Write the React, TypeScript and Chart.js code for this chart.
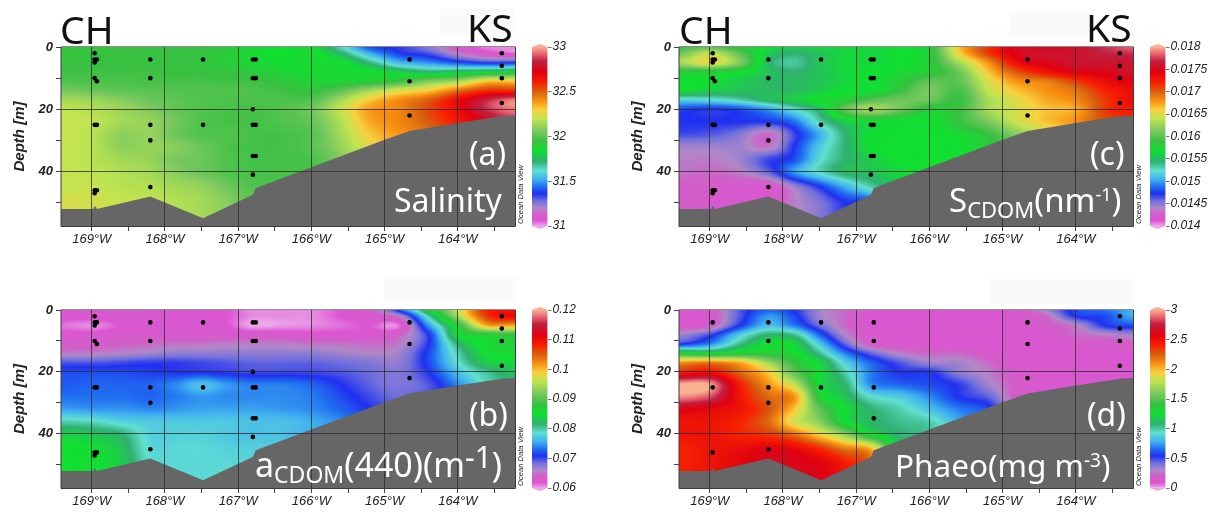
import React, { useEffect, useRef } from "react";
import { Chart, registerables } from "chart.js";

Chart.register(...registerables);

const longitudes = [-169.42, -169, -168.6, -168.2, -167.85, -167.5, -167.15, -166.8, -166.4, -166, -165.6, -165.2, -164.8, -164.4, -164, -163.6, -163.22];
const depths = [0, 2, 5, 8, 11, 14, 17, 20, 24, 28, 32, 36, 40, 45, 50, 57];

const salinity = [
  [32.03,32.03,32.04,32.04,32.04,32.03,32.0,31.96,31.94,31.95,31.75,31.45,31.38,31.27,31.1,31.03,31.02],
  [32.03,32.03,32.04,32.04,32.04,32.03,32.0,31.96,31.94,31.96,31.85,31.6,31.42,31.35,31.2,31.1,31.05],
  [32.04,32.04,32.04,32.04,32.04,32.03,32.0,31.97,31.95,31.96,31.95,31.82,31.62,31.55,31.45,31.38,31.4],
  [32.05,32.05,32.05,32.05,32.04,32.04,32.03,32.01,31.98,31.96,31.96,31.95,31.9,31.85,31.88,31.92,31.95],
  [32.08,32.07,32.07,32.06,32.06,32.06,32.05,32.05,32.02,31.98,31.98,32.0,32.05,32.15,32.2,32.35,32.35],
  [32.14,32.12,32.1,32.09,32.08,32.08,32.08,32.07,32.05,32.03,32.1,32.2,32.28,32.35,32.5,32.62,32.62],
  [32.2,32.19,32.16,32.12,32.1,32.08,32.07,32.07,32.07,32.08,32.2,32.35,32.45,32.54,32.7,32.84,32.95],
  [32.24,32.22,32.19,32.15,32.11,32.08,32.07,32.06,32.08,32.13,32.25,32.42,32.46,32.58,32.7,32.86,32.95],
  [32.25,32.24,32.2,32.18,32.13,32.08,32.06,32.06,32.08,32.11,32.22,32.4,32.46,32.55,32.66,32.75,32.85],
  [32.25,32.23,32.17,32.18,32.12,32.08,32.08,32.06,32.06,32.09,32.2,32.35,32.43,32.5,32.6,32.7,32.8],
  [32.25,32.23,32.17,32.18,32.16,32.12,32.07,32.06,32.06,32.09,32.18,32.3,32.4,32.5,32.6,32.7,32.8],
  [32.25,32.23,32.2,32.18,32.14,32.12,32.08,32.06,32.06,32.07,32.15,32.25,32.35,32.4,32.5,32.6,32.7],
  [32.25,32.24,32.22,32.2,32.16,32.12,32.08,32.06,32.06,32.07,32.12,32.2,32.3,32.4,32.5,32.6,32.7],
  [32.25,32.25,32.23,32.22,32.2,32.18,32.13,32.08,32.07,32.08,32.12,32.2,32.3,32.4,32.5,32.6,32.7],
  [32.28,32.27,32.25,32.24,32.22,32.2,32.16,32.1,32.08,32.08,32.12,32.2,32.3,32.4,32.5,32.6,32.7],
  [32.28,32.27,32.25,32.24,32.22,32.2,32.16,32.1,32.08,32.08,32.12,32.2,32.3,32.4,32.5,32.6,32.7],
];

// in units of 0.001 nm-1
const scdomMilli = [
  [16.08,16.2,16,15.88,15.8,15.84,15.84,15.84,15.88,16,16.72,17.2,17.52,17.52,17.6,17.72,17.84],
  [16.24,16.48,16.2,15.8,15.68,15.76,15.84,15.84,15.88,16,16.64,17.2,17.52,17.6,17.6,17.68,17.72],
  [16.4,16.6,16.32,15.72,15.56,15.76,15.84,15.84,15.88,16,16.4,16.88,17.4,17.52,17.6,17.6,17.6],
  [16,16,15.92,15.76,15.68,15.76,15.84,15.88,15.92,16,16.24,16.72,17.12,17.36,17.48,17.52,17.6],
  [15.88,15.88,15.8,15.72,15.72,15.76,15.84,15.88,16,16.2,16.2,16.56,16.88,16.96,17.2,17.4,17.48],
  [15.88,15.8,15.76,15.72,15.72,15.8,15.88,15.88,16.08,16.28,16.12,16.48,16.72,16.88,17,17.28,17.4],
  [15.36,15.4,15.52,15.72,15.8,15.92,16,16.16,16.24,16.24,16.08,16.4,16.6,16.8,16.92,17.2,17.4],
  [14.88,14.8,14.88,15.12,15.44,15.72,16.2,16.4,16.24,16,16.08,16.4,16.56,16.72,16.8,17.2,17.32],
  [14.8,14.8,14.8,14.8,15,15.52,15.8,15.88,15.88,15.88,16.08,16.28,16.52,16.72,16.88,17.12,17.2],
  [14.72,14.68,14.56,14.32,14.72,15.2,15.68,15.88,15.88,15.88,15.92,16.08,16.32,16.48,16.64,16.8,16.96],
  [14.48,14.48,14.48,14.36,14.8,15.32,15.68,15.88,15.88,15.88,15.88,16,16.16,16.32,16.4,16.48,16.56],
  [14.4,14.4,14.48,14.72,14.88,15.4,15.68,15.8,15.88,15.88,15.88,15.92,16,16,16,16,16],
  [14.36,14.32,14.4,14.64,15.12,15.48,15.72,15.76,15.84,15.88,15.88,15.88,15.88,16,16,16,16],
  [14.24,14.24,14.2,14.16,14.48,14.8,15.2,15.52,15.8,15.88,15.88,15.88,15.88,16,16,16,16],
  [14.24,14.2,14.2,14.2,14.4,14.56,14.8,14.88,15.8,15.88,15.88,15.88,15.88,16,16,16,16],
  [14.24,14.2,14.2,14.2,14.4,14.56,14.8,14.88,15.8,15.88,15.88,15.88,15.88,16,16,16,16],
];

// in units of 0.001 m-1
const acdomMilli = [
  [62.4,63,63,63,62.4,62.4,61.8,60.6,60.6,60.6,61.8,63.6,73.2,87.6,97.2,109.2,110.4],
  [62.4,62.4,63,63,62.4,62.4,61.8,60.6,60.6,60.6,61.8,63,66,82.8,96,108,111],
  [61.2,60.6,61.8,62.4,62.4,62.4,61.8,60,60.3,60.6,61.2,61.8,61.2,76.8,90,102,102],
  [62.4,62.4,63,63,63,63,63,63,63,62.4,62.4,62.4,64.2,72,88.2,90,91.2],
  [63.6,63.6,64.2,64.8,65.4,65.4,66,66,66,65.4,65.4,64.8,66,72,85.2,88.8,90],
  [66,66,66.6,67.2,67.8,67.8,67.8,67.8,67.8,67.8,67.2,66.6,67.2,73.2,82.8,88.2,88.8],
  [70.2,70.2,70.8,71.4,71.4,70.8,70.2,69.6,69.6,69.6,69,68.4,67.8,73.2,81.6,87,87.6],
  [73.2,73.2,73.2,72.6,72,72,71.4,70.8,70.8,70.8,70.2,69,68.4,72,79.2,84,86.4],
  [73.8,74.4,74.4,74.4,76.2,79.2,76.8,75.6,75.6,74.4,72,69.6,68.4,70.2,76.2,81.6,84],
  [75,75,75,74.4,75.6,76.8,76.2,76.2,76.2,75.6,73.2,70.8,69,70.2,72,74.4,76.8],
  [77.4,76.8,76.8,76.2,76.8,77.4,77.4,77.4,76.8,76.2,74.4,72,69.6,70.2,72,72,72],
  [82.8,82.2,80.4,79.8,79.8,79.8,79.8,79.2,79.2,78,76.2,73.2,70.8,70.8,72,72,72],
  [87,86.4,85.2,80.4,80.4,80.4,79.8,79.2,79.2,78,76.2,73.2,70.8,70.8,72,72,72],
  [88.2,88.2,86.4,81,81,81,80.4,80.4,79.8,78,76.2,73.2,70.8,70.8,72,72,72],
  [88.2,88.2,87,81.6,81,81,81,80.4,79.8,78,76.2,73.2,70.8,70.8,72,72,72],
  [88.2,88.2,87,81.6,81,81,81,80.4,79.8,78,76.2,73.2,70.8,70.8,72,72,72],
];

const phaeo = [
  [0.12,0.15,0.5,0.72,0.6,0.36,0.24,0.12,0.12,0.12,0.12,0.12,0.15,0.36,0.66,0.75,0.9],
  [0.12,0.15,0.5,0.84,0.66,0.36,0.24,0.12,0.12,0.12,0.12,0.12,0.15,0.24,0.6,0.66,0.9],
  [0.15,0.18,0.6,0.95,0.78,0.45,0.24,0.12,0.12,0.12,0.12,0.12,0.12,0.18,0.3,0.6,0.66],
  [0.36,0.54,0.99,1.26,1.2,0.72,0.33,0.15,0.12,0.12,0.12,0.12,0.12,0.15,0.24,0.3,0.36],
  [0.6,0.81,1.2,1.41,1.38,0.99,0.48,0.18,0.15,0.12,0.12,0.12,0.12,0.12,0.15,0.18,0.18],
  [1.5,1.41,1.5,1.5,1.44,1.2,0.78,0.48,0.3,0.24,0.24,0.15,0.12,0.12,0.12,0.12,0.12],
  [2.16,2.22,2.1,1.8,1.56,1.38,1.02,0.72,0.51,0.36,0.36,0.24,0.12,0.12,0.12,0.12,0.12],
  [2.46,2.52,2.28,2.01,1.65,1.41,1.14,0.78,0.6,0.6,0.39,0.3,0.15,0.12,0.12,0.12,0.12],
  [3,2.98,2.49,2.16,1.86,1.41,1.26,0.81,0.72,0.66,0.57,0.36,0.18,0.12,0.12,0.12,0.12],
  [2.95,2.85,2.52,2.28,2.16,1.5,1.32,1.08,0.99,0.81,0.6,0.48,0.18,0.12,0.12,0.12,0.12],
  [2.64,2.58,2.52,2.34,2.04,1.65,1.41,1.26,1.14,0.96,0.78,0.66,0.3,0.15,0.12,0.12,0.12],
  [2.52,2.52,2.46,2.28,1.92,1.74,1.41,1.29,1.2,1.14,0.9,0.72,0.3,0.15,0.12,0.12,0.12],
  [2.52,2.52,2.46,2.4,2.25,1.98,1.74,1.41,1.26,1.2,1.05,0.9,0.3,0.15,0.12,0.12,0.12],
  [2.46,2.52,2.55,2.61,2.58,2.46,2.25,2.1,1.3,1.2,1.05,0.9,0.3,0.15,0.12,0.12,0.12],
  [2.46,2.52,2.58,2.64,2.64,2.61,2.49,2.25,1.3,1.2,1.05,0.9,0.3,0.15,0.12,0.12,0.12],
  [2.46,2.52,2.58,2.64,2.64,2.61,2.49,2.25,1.3,1.2,1.05,0.9,0.3,0.15,0.12,0.12,0.12],
];

const seabedLon = [-169.42, -168.98, -168.96, -168.93, -168.2, -167.48, -166.8, -166.76, -166, -165, -164.66, -164, -163.4, -163.22];
const seabedDepth = [52, 52, 51, 52, 48, 55, 47.5, 45.3, 38.6, 29.8, 27, 24.4, 22.2, 22];

const stationsFull = [
  [-168.96,2],[-168.96,4],[-168.93,4],[-168.96,5],[-168.96,10],[-168.93,11],
  [-168.96,25],[-168.93,25],[-168.93,46],[-168.96,46],[-168.96,47],
  [-168.2,4],[-168.2,10],[-168.2,25],[-168.2,30],[-168.2,45],
  [-167.48,4],[-167.48,25],
  [-166.8,4],[-166.76,4],[-166.8,10],[-166.76,10],[-166.8,20],[-166.8,25],[-166.76,25],[-166.8,35],[-166.76,35],[-166.8,41],
  [-164.66,4],[-164.66,11],[-164.66,22],
  [-163.4,2],[-163.4,6],[-163.4,10],[-163.4,18],
];
const stationsPhaeo = [
  [-168.96,4],[-168.96,25],[-168.96,46],
  [-168.2,4],[-168.2,10],[-168.2,25],[-168.2,30],[-168.2,45],
  [-167.48,4],[-167.48,25],
  [-166.76,4],[-166.76,10],[-166.76,25],[-166.76,35],
  [-164.66,4],[-164.66,11],[-164.66,22],
  [-163.4,2],[-163.4,6],[-163.4,10],[-163.4,18],
];

// Position of each colour as read from the legend bars, and the position it had
// when the section values above were read off the picture.
const colorHex = ["#eba6e8","#dc55d2","#d060c8","#b088c8","#7070dc","#2030f0","#2070f0","#40b0f0","#60e0d0","#30b070","#10e030","#38c040","#78c860","#c0e450","#f8d040","#f89010","#d86010","#f82000","#e00010","#c02040","#e86070","#f8b090"];
const colorPos = [0,0.03,0.07,0.1,0.14,0.18,0.22,0.26,0.31,0.36,0.42,0.47,0.53,0.6,0.65,0.7,0.75,0.8,0.86,0.92,0.96,1];
const readingPos = [0,0.03,0.07,0.11,0.15,0.2,0.25,0.3,0.36,0.42,0.47,0.52,0.57,0.62,0.67,0.72,0.77,0.82,0.87,0.92,0.96,1];

const hexRgb = (h: string) => [1, 3, 5].map((i) => parseInt(h.slice(i, i + 2), 16));
const rgbStops = colorHex.map(hexRgb);

function fracIndex(list: number[], v: number) {
  if (v <= list[0]) return 0;
  for (let i = 1; i < list.length; i++) {
    if (v <= list[i]) return i - 1 + (v - list[i - 1]) / (list[i] - list[i - 1]);
  }
  return list.length - 1;
}

function colorAt(t: number) {
  const f = fracIndex(colorPos, t);
  const i = Math.min(rgbStops.length - 2, Math.floor(f));
  const a = rgbStops[i], b = rgbStops[i + 1], k = f - i;
  return [a[0] + (b[0] - a[0]) * k, a[1] + (b[1] - a[1]) * k, a[2] + (b[2] - a[2]) * k];
}

const calibrate = (grid: number[][], min: number, max: number) =>
  grid.map((r) => r.map((v) => {
    const t = Math.max(0, Math.min(1, (v - min) / (max - min)));
    const f = fracIndex(readingPos, t);
    const i = Math.min(colorPos.length - 2, Math.floor(f));
    return min + (max - min) * (colorPos[i] + (colorPos[i + 1] - colorPos[i]) * (f - i));
  }));

const cubic = (a: number, b: number, c: number, d: number, t: number) =>
  b + 0.5 * t * (c - a + t * (2 * a - 5 * b + 4 * c - d + t * (3 * (b - c) + d - a)));

function sample(grid: number[][], fx: number, fy: number) {
  const ix = Math.floor(fx), iy = Math.floor(fy);
  const row = (j: number) => {
    const r = grid[Math.max(0, Math.min(grid.length - 1, j))];
    const at = (k: number) => r[Math.max(0, Math.min(r.length - 1, k))];
    return cubic(at(ix - 1), at(ix), at(ix + 1), at(ix + 2), fx - ix);
  };
  return cubic(row(iy - 1), row(iy), row(iy + 1), row(iy + 2), fy - iy);
}

const fieldPlugin = (grid: number[][], min: number, max: number) => ({
  id: "field",
  beforeDatasetsDraw(chart: any) {
    const { ctx, chartArea: a, scales } = chart;
    const w = Math.round(a.right - a.left), h = Math.round(a.bottom - a.top);
    const off = document.createElement("canvas");
    off.width = w; off.height = h;
    const oc = off.getContext("2d")!;
    const img = oc.createImageData(w, h);
    const fxs = Array.from({ length: w }, (_, i) => fracIndex(longitudes, scales.x.getValueForPixel(a.left + i + 0.5)));
    for (let j = 0; j < h; j++) {
      const fy = fracIndex(depths, scales.y.getValueForPixel(a.top + j + 0.5));
      for (let i = 0; i < w; i++) {
        const c = colorAt(Math.max(0, Math.min(1, (sample(grid, fxs[i], fy) - min) / (max - min))));
        const p = (j * w + i) * 4;
        img.data[p] = c[0]; img.data[p + 1] = c[1]; img.data[p + 2] = c[2]; img.data[p + 3] = 255;
      }
    }
    oc.putImageData(img, 0, 0);
    ctx.drawImage(off, a.left, a.top);
  },
  afterDraw(chart: any) {
    const { ctx, chartArea: a } = chart;
    ctx.save();
    ctx.lineWidth = 1;
    ctx.strokeStyle = "#3c3c3c";
    ctx.beginPath();
    ctx.moveTo(a.left, a.top); ctx.lineTo(a.left, a.bottom + 0.5);
    ctx.lineTo(a.right + 0.5, a.bottom + 0.5); ctx.lineTo(a.right + 0.5, a.top);
    ctx.stroke();
    ctx.strokeStyle = "#8c8c8c";
    ctx.beginPath();
    ctx.moveTo(a.left, a.top - 0.5); ctx.lineTo(a.right + 0.5, a.top - 0.5);
    ctx.stroke();
    ctx.restore();
  },
});

const capsPlugin = {
  id: "caps",
  afterDatasetsDraw(chart: any) {
    const { ctx, chartArea: a } = chart;
    const mid = (a.left + a.right) / 2;
    ctx.save();
    ctx.fillStyle = colorHex[colorHex.length - 1];
    ctx.beginPath();
    ctx.moveTo(a.left, a.top); ctx.lineTo(mid, a.top - 3); ctx.lineTo(a.right, a.top); ctx.closePath();
    ctx.fill();
    ctx.fillStyle = colorHex[0];
    ctx.beginPath();
    ctx.moveTo(a.left, a.bottom); ctx.lineTo(mid, a.bottom + 3); ctx.lineTo(a.right, a.bottom); ctx.closePath();
    ctx.fill();
    ctx.restore();
  },
};

const FONT = "'Liberation Sans', Arial, sans-serif";
const LON_MIN = -169.42, LON_MAX = -163.22, DEPTH_MAX = 57.5;

const panels = [
  { grid: calibrate(salinity, 31, 33), min: 31, max: 33, step: 0.5, stations: stationsFull, left: 60.5, right: 514.5, top: 47, bottom: 225.5, barLeft: 532 },
  { grid: calibrate(scdomMilli.map((r) => r.map((v) => v / 1000)), 0.014, 0.018), min: 0.014, max: 0.018, step: 0.0005, stations: stationsFull, left: 679, right: 1132.5, top: 47, bottom: 225.5, barLeft: 1150 },
  { grid: calibrate(acdomMilli.map((r) => r.map((v) => v / 1000)), 0.06, 0.12), min: 0.06, max: 0.12, step: 0.01, stations: stationsFull, left: 60.5, right: 514.5, top: 310, bottom: 488, barLeft: 532 },
  { grid: calibrate(phaeo, 0, 3), min: 0, max: 3, step: 0.5, stations: stationsPhaeo, left: 679, right: 1132.5, top: 310, bottom: 488, barLeft: 1150 },
];

const PAD_L = 60, PAD_T = 12, PAD_R = 8, AXIS_H = 28;
const BAR_W = 15.5, BAR_PAD = 6, BAR_CANVAS = 70;

const patches = [
  { left: 440, top: 9, width: 75, height: 25 },
  { left: 1009, top: 12, width: 85, height: 25 },
  { left: 384, top: 277, width: 132, height: 25 },
  { left: 990, top: 279, width: 143, height: 25 },
];

const whiteText: React.CSSProperties = { position: "absolute", color: "#fff", fontFamily: "'Noto Sans', sans-serif", lineHeight: 1, whiteSpace: "nowrap" };
const headText: React.CSSProperties = { position: "absolute", color: "#111", fontFamily: "'Noto Sans', sans-serif", fontSize: 39, lineHeight: 1 };
const odv: React.CSSProperties = { position: "absolute", font: `italic 7.6px ${FONT}`, color: "#222", writingMode: "vertical-rl", transform: "rotate(180deg)", lineHeight: 1, whiteSpace: "nowrap" };
const sub = (s: number, d: number): React.CSSProperties => ({ fontSize: s, position: "relative", top: d });

export default function App() {
  const mainRefs = useRef<(HTMLCanvasElement | null)[]>([]);
  const barRefs = useRef<(HTMLCanvasElement | null)[]>([]);

  useEffect(() => {
    const charts: Chart[] = [];
    panels.forEach((p, i) => {
      charts.push(new Chart(mainRefs.current[i]!, {
        type: "scatter",
        data: {
          datasets: [
            {
              data: p.stations.map(([x, y]) => ({ x, y })),
              backgroundColor: "#000", borderColor: "#000", pointRadius: 2.3, pointBorderWidth: 0, order: 0,
            },
            {
              data: seabedLon.map((x, k) => ({ x, y: seabedDepth[k] })),
              showLine: true, fill: "start", backgroundColor: "#666666", borderColor: "#666666", borderWidth: 0, pointRadius: 0, order: 1,
            },
          ],
        } as any,
        plugins: [fieldPlugin(p.grid, p.min, p.max)],
        options: {
          responsive: false, animation: false, events: [],
          layout: { padding: { left: 0, top: PAD_T, right: PAD_R, bottom: 0 } },
          plugins: { legend: { display: false }, tooltip: { enabled: false } },
          scales: {
            x: {
              type: "linear", min: LON_MIN, max: LON_MAX,
              afterFit: (s: any) => { s.height = AXIS_H; },
              grid: {
                z: 1, tickLength: 5, tickColor: "#444",
                color: (c: any) => (Number.isInteger(c.tick?.value) ? "rgba(45,45,45,0.8)" : "rgba(0,0,0,0)"),
              },
              border: { display: false },
              ticks: {
                stepSize: 0.5, includeBounds: false, autoSkip: false, maxRotation: 0, padding: 1, color: "#222",
                font: { family: FONT, style: "italic", size: 13 },
                callback: (v: any) => (Number.isInteger(v) ? `${-v}°W` : ""),
              },
            },
            y: {
              type: "linear", reverse: true, min: 0, max: DEPTH_MAX,
              afterFit: (s: any) => { s.width = PAD_L; },
              title: { display: true, text: "Depth [m]", color: "#222", padding: { top: 10, bottom: 0 }, font: { family: FONT, style: "italic", weight: "bold", size: 15 } },
              grid: {
                z: 1, tickLength: 5, tickColor: "#444",
                color: (c: any) => (c.tick?.value === 20 || c.tick?.value === 40 ? "rgba(45,45,45,0.8)" : "rgba(0,0,0,0)"),
              },
              border: { display: false },
              ticks: {
                stepSize: 10, includeBounds: false, autoSkip: false, padding: 3, color: "#222",
                font: { family: FONT, style: "italic", weight: "bold", size: 13 },
                callback: (v: any) => (v % 20 === 0 ? String(v) : ""),
              },
            },
          },
        } as any,
      }));

      const grad = (c: any) => {
        const { chart } = c;
        const ys = chart.scales.y;
        if (!ys || !chart.chartArea) return colorHex[0];
        const g = chart.ctx.createLinearGradient(0, ys.getPixelForValue(p.min), 0, ys.getPixelForValue(p.max));
        colorHex.forEach((col, k) => g.addColorStop(colorPos[k], col));
        return g;
      };
      charts.push(new Chart(barRefs.current[i]!, {
        type: "bar",
        data: { labels: ["scale"], datasets: [{ data: [[p.min, p.max]], backgroundColor: grad, barPercentage: 1, categoryPercentage: 1, borderWidth: 0, borderSkipped: false }] } as any,
        plugins: [capsPlugin],
        options: {
          responsive: false, animation: false, events: [],
          layout: { padding: { left: BAR_PAD, top: PAD_T, bottom: 12, right: 0 } },
          plugins: { legend: { display: false }, tooltip: { enabled: false } },
          scales: {
            x: { display: false },
            y: {
              position: "right", min: p.min, max: p.max,
              afterFit: (s: any) => { s.width = BAR_CANVAS - BAR_PAD - BAR_W; },
              grid: { drawOnChartArea: false, tickLength: 4, tickColor: "#777" },
              border: { display: false },
              ticks: {
                stepSize: p.step, autoSkip: false, padding: 1, color: "#222",
                font: { family: FONT, style: "italic", size: 12 },
                callback: (v: any) => String(Number(Number(v).toFixed(4))),
              },
            },
          },
        } as any,
      }));
    });
    return () => charts.forEach((c) => c.destroy());
  }, []);

  return (
    <div style={{ position: "absolute", left: 0, top: 0, width: 1212, height: 514, overflow: "hidden", background: "#fff", filter: "blur(0.4px)" }}>
      {patches.map((r, i) => (
        <div key={i} style={{ position: "absolute", background: "#fafafa", ...r }} />
      ))}
      {panels.map((p, i) => (
        <React.Fragment key={i}>
          <canvas
            ref={(el) => { mainRefs.current[i] = el; }}
            width={Math.round(p.right - p.left) + PAD_L + PAD_R}
            height={Math.round(p.bottom - p.top) + PAD_T + AXIS_H}
            style={{ position: "absolute", left: Math.round(p.left) - PAD_L, top: p.top - PAD_T }}
          />
          <canvas
            ref={(el) => { barRefs.current[i] = el; }}
            width={BAR_CANVAS}
            height={Math.round(p.bottom - p.top) + PAD_T + 12}
            style={{ position: "absolute", left: p.barLeft - BAR_PAD, top: p.top - PAD_T }}
          />
        </React.Fragment>
      ))}

      <div style={{ ...headText, left: 60, top: 9 }}>CH</div>
      <div style={{ ...headText, left: 467, top: 7 }}>KS</div>
      <div style={{ ...headText, left: 679, top: 9 }}>CH</div>
      <div style={{ ...headText, left: 1086, top: 7 }}>KS</div>

      <div style={{ ...whiteText, fontSize: 32, left: 469, top: 137 }}>(a)</div>
      <div style={{ ...whiteText, fontSize: 32, left: 394, top: 184 }}>Salinity</div>
      <div style={{ ...whiteText, fontSize: 32, left: 1090, top: 137 }}>(c)</div>
      <div style={{ ...whiteText, fontSize: 33, left: 949, top: 183 }}>
        S<span style={sub(22, 6)}>CDOM</span>(nm<span style={sub(18, -11)}>-1</span>)
      </div>
      <div style={{ ...whiteText, fontSize: 32, left: 469, top: 398 }}>(b)</div>
      <div style={{ ...whiteText, fontSize: 34, left: 255, top: 447 }}>
        a<span style={sub(23, 6)}>CDOM</span>(440)(m<span style={sub(30, -9)}>-1</span>)
      </div>
      <div style={{ ...whiteText, fontSize: 32, left: 1087, top: 398 }}>(d)</div>
      <div style={{ ...whiteText, fontSize: 31.5, left: 895, top: 449 }}>
        Phaeo(mg m<span style={sub(19, -10)}>-3</span>)
      </div>

      <div style={{ ...odv, left: 517, bottom: 514 - 224 }}>Ocean Data View</div>
      <div style={{ ...odv, left: 1135, bottom: 514 - 224 }}>Ocean Data View</div>
      <div style={{ ...odv, left: 517, bottom: 514 - 486 }}>Ocean Data View</div>
      <div style={{ ...odv, left: 1135, bottom: 514 - 486 }}>Ocean Data View</div>
    </div>
  );
}
